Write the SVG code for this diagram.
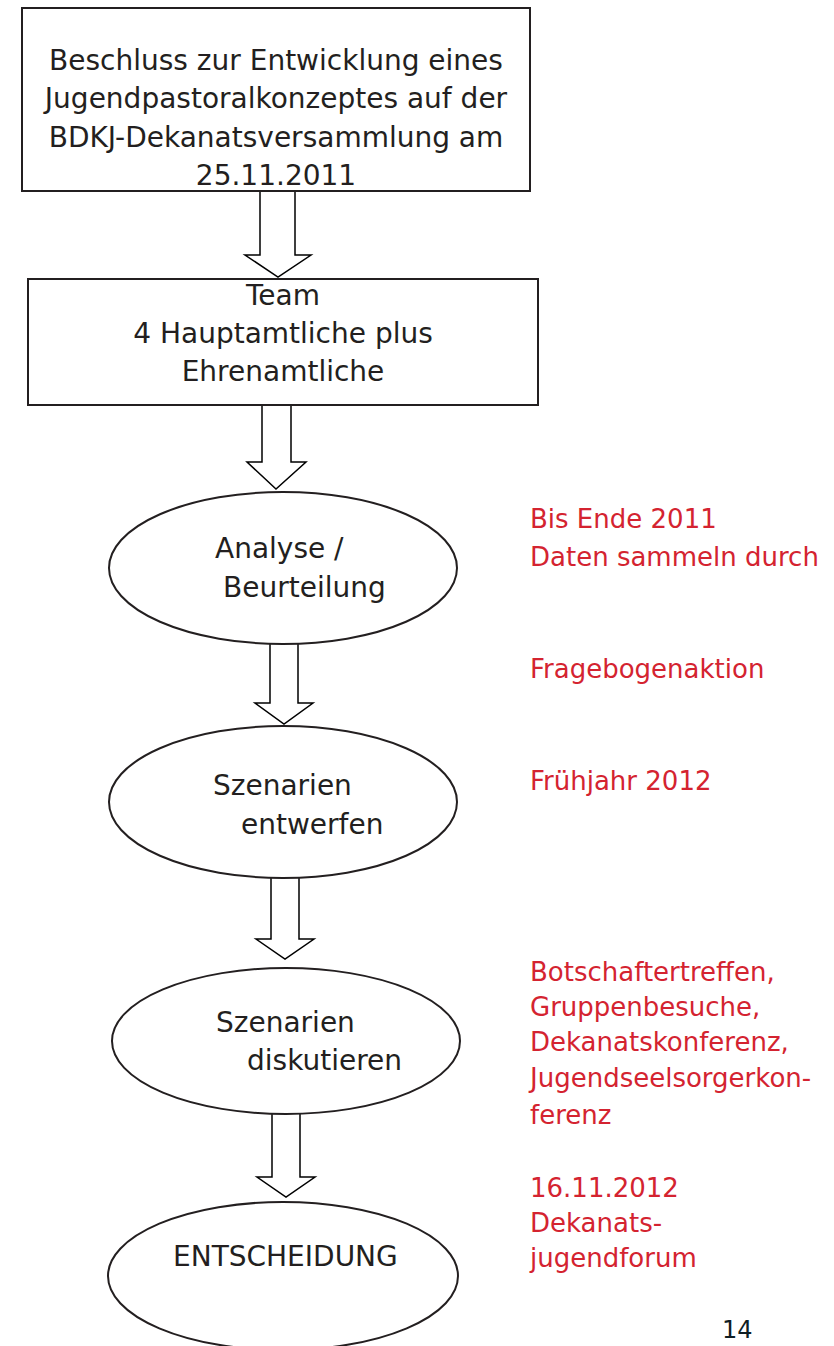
<svg xmlns="http://www.w3.org/2000/svg" width="834" height="1346" viewBox="0 0 834 1346">
<style>
.shape{fill:#fff;stroke:#231f20;stroke-width:2}
.arr{fill:#fff;stroke:#000;stroke-width:1.5;stroke-linejoin:miter}
.t{font-family:"DejaVu Sans",sans-serif;font-size:28px;fill:#231f20}
.r{font-family:"DejaVu Sans",sans-serif;font-size:26px;fill:#d42330}
.c{text-anchor:middle}
</style>
<rect width="834" height="1346" fill="#fff"/>
<g id="connectors">
<path class="arr" d="M260,191 V255 H245 L278,277 L311,255 H295 V191"/>
<path class="arr" d="M262,405 V462 H247 L276,489 L306,462 H291 V405"/>
<path class="arr" d="M270,644 V703 H255 L284,724 L313,703 H298 V644"/>
<path class="arr" d="M271,878 V939 H256 L285,959 L314,939 H299 V878"/>
<path class="arr" d="M272,1113 V1177 H257 L286,1197 L315,1177 H300 V1113"/>
</g>
<g id="n1">
<rect class="shape" x="22" y="8" width="508" height="183"/>
<text class="t c" x="276" y="70">Beschluss zur Entwicklung eines</text>
<text class="t c" x="276" y="108">Jugendpastoralkonzeptes auf der</text>
<text class="t c" x="276" y="147">BDKJ-Dekanatsversammlung am</text>
<text class="t c" x="276" y="185">25.11.2011</text>
</g>
<g id="n2">
<rect class="shape" x="28" y="279" width="510" height="126"/>
<text class="t c" x="283" y="305">Team</text>
<text class="t c" x="283" y="343">4 Hauptamtliche plus</text>
<text class="t c" x="283" y="381">Ehrenamtliche</text>
</g>
<g id="n3">
<ellipse class="shape" cx="283" cy="568" rx="174" ry="76"/>
<text class="t" x="215" y="558">Analyse /</text>
<text class="t" x="223" y="597">Beurteilung</text>
</g>
<g id="n4">
<ellipse class="shape" cx="283" cy="802" rx="174" ry="76"/>
<text class="t" x="213" y="795">Szenarien</text>
<text class="t" x="241" y="834">entwerfen</text>
</g>
<g id="n5">
<ellipse class="shape" cx="286" cy="1041" rx="174" ry="73"/>
<text class="t" x="216" y="1032">Szenarien</text>
<text class="t" x="247" y="1070">diskutieren</text>
</g>
<g id="n6">
<ellipse class="shape" cx="283" cy="1276" rx="175" ry="74"/>
<text class="t" x="173" y="1266">ENTSCHEIDUNG</text>
</g>
<g id="notes">
<text class="r" x="530" y="528">Bis Ende 2011</text>
<text class="r" x="530" y="566">Daten sammeln durch</text>
<text class="r" x="530" y="678">Fragebogenaktion</text>
<text class="r" x="530" y="790">Frühjahr 2012</text>
<text class="r" x="530" y="981">Botschaftertreffen,</text>
<text class="r" x="530" y="1016">Gruppenbesuche,</text>
<text class="r" x="530" y="1051">Dekanatskonferenz,</text>
<text class="r" x="530" y="1087">Jugendseelsorgerkon-</text>
<text class="r" x="530" y="1124">ferenz</text>
<text class="r" x="530" y="1197">16.11.2012</text>
<text class="r" x="530" y="1232">Dekanats-</text>
<text class="r" x="530" y="1267">jugendforum</text>
<text x="722" y="1338" style="font-family:'DejaVu Sans',sans-serif;font-size:24px;fill:#0f1e24">14</text>
</g>
</svg>
